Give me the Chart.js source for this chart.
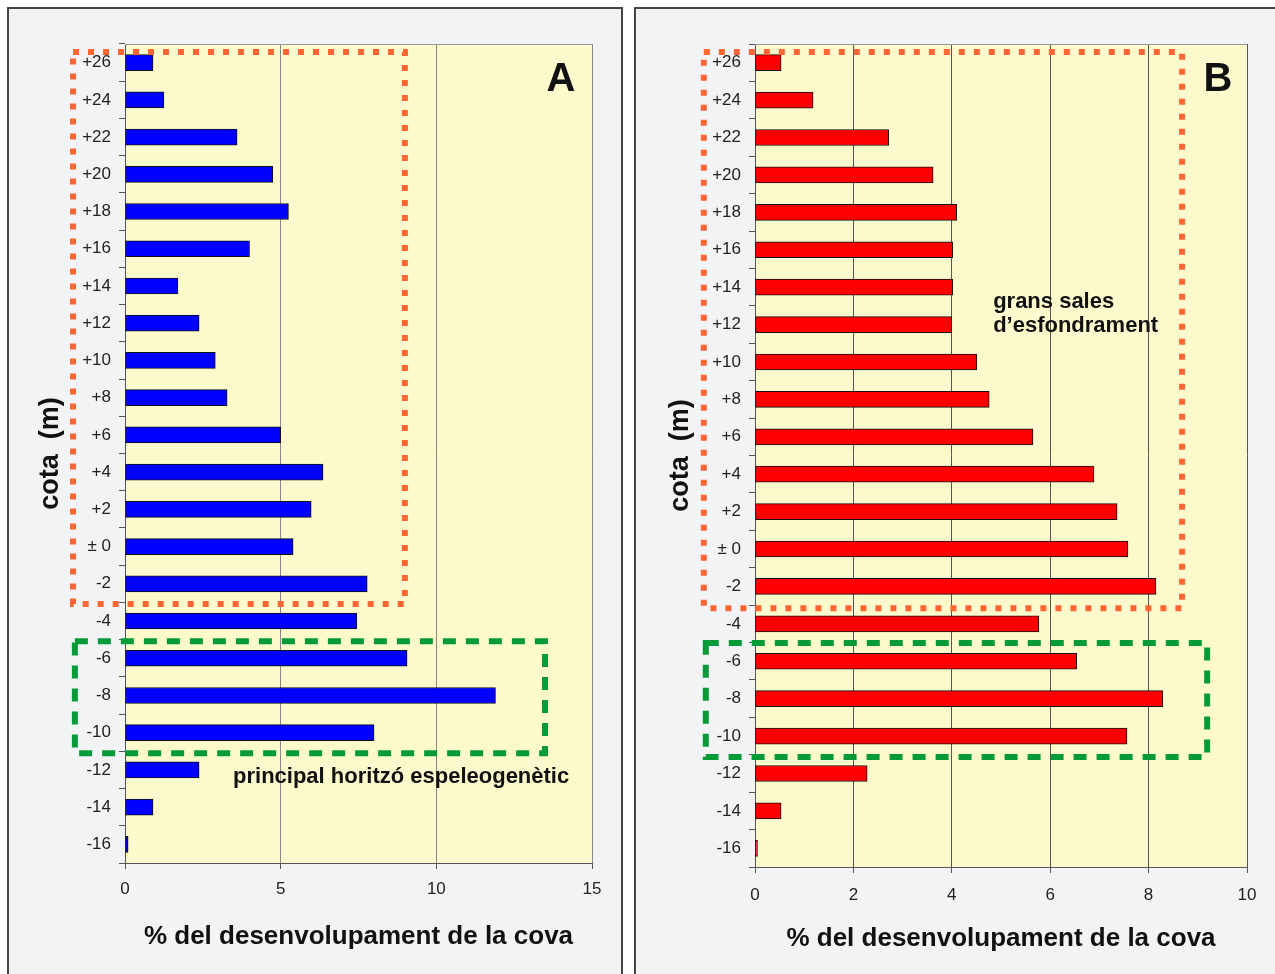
<!DOCTYPE html>
<html>
<head>
<meta charset="utf-8">
<script src="https://cdn.jsdelivr.net/npm/chart.js@4/dist/chart.umd.min.js"></script>
<style>
    body { margin: 0; background: #fff; width: 1275px; height: 974px; overflow: hidden; position: relative; font-family: "Liberation Sans", Arial, sans-serif; }
    .panell { position: absolute; background: #f2f3f5; border: 2px solid #444; border-bottom: none; }
    #panellA { left: 7px; top: 7px; width: 612px; height: 980px; }
    #panellB { left: 634px; top: 7px; width: 700px; height: 980px; border-right: none; }
    .caixa { position: absolute; top: 9px; height: 965px; }
    #caixaA { left: 9px; width: 612px; }
    #caixaB { left: 636px; width: 639px; }
</style>
</head>
<body>
<div class="panell" id="panellA"></div>
<div class="panell" id="panellB"></div>
<div class="caixa" id="caixaA"><canvas id="graficA"></canvas></div>
<div class="caixa" id="caixaB"><canvas id="graficB"></canvas></div>
<script>
// Cotes (m) i % del desenvolupament de la cova
const cotes = ['+26', '+24', '+22', '+20', '+18', '+16', '+14', '+12', '+10', '+8', '+6', '+4', '+2', '± 0',
    '-2', '-4', '-6', '-8', '-10', '-12', '-14', '-16'];
const pctA = [0.9, 1.25, 3.6, 4.75, 5.25, 4.0, 1.7, 2.38, 2.9, 3.28, 5.0, 6.36, 5.98, 5.4,
    7.78, 7.45, 9.06, 11.9, 8.0, 2.38, 0.9, 0.1];
const pctB = [0.53, 1.18, 2.72, 3.62, 4.1, 4.02, 4.02, 4.0, 4.51, 4.76, 5.65, 6.89, 7.36, 7.58,
    8.15, 5.77, 6.54, 8.29, 7.56, 2.28, 0.53, 0.05];

const FONT = '"Liberation Sans", Arial, sans-serif';

// Fons groc de l'àrea, marcs i textos (en coordenades de les escales)
const marcsPlugin = {
    id: 'marcs',
    beforeDraw(chart) {
        const { ctx, chartArea: a } = chart;
        ctx.save();
        ctx.fillStyle = '#fcfacd';
        ctx.fillRect(a.left, a.top, a.right - a.left, a.bottom - a.top);
        ctx.restore();
    },
    afterDraw(chart, args, opts) {
        const { ctx, chartArea: a } = chart;
        const sx = chart.scales.x, sy = chart.scales.y;
        ctx.save();
        ctx.strokeStyle = '#999';
        ctx.lineWidth = 1;
        ctx.beginPath();
        ctx.moveTo(a.left, a.top + 0.5);
        ctx.lineTo(a.right, a.top + 0.5);
        ctx.stroke();
        (opts.caixes || []).forEach(c => {
            const x1 = sx.getPixelForValue(c.x[0]), x2 = sx.getPixelForValue(c.x[1]);
            const y1 = sy.getPixelForValue(c.y[0]), y2 = sy.getPixelForValue(c.y[1]);
            ctx.strokeStyle = c.color;
            ctx.lineWidth = 6;
            ctx.setLineDash(c.dash);
            ctx.strokeRect(x1, y1, x2 - x1, y2 - y1);
        });
        ctx.setLineDash([]);
        (opts.textos || []).forEach(t => {
            ctx.font = 'bold ' + t.size + 'px ' + FONT;
            ctx.fillStyle = '#111';
            ctx.textAlign = t.align || 'left';
            ctx.textBaseline = 'middle';
            t.lines.forEach((l, i) => {
                ctx.fillText(l, sx.getPixelForValue(t.x), sy.getPixelForValue(t.y[i]));
            });
        });
        ctx.restore();
    }
};

function crearGrafic(id, dades, color, cfg) {
    return new Chart(document.getElementById(id), {
        type: 'bar',
        data: {
            labels: cotes,
            datasets: [{
                data: dades,
                backgroundColor: color,
                borderColor: '#111',
                borderWidth: 1,
                borderSkipped: false,
                barThickness: 16
            }]
        },
        options: {
            indexAxis: 'y',
            responsive: true,
            maintainAspectRatio: false,
            animation: false,
            layout: { padding: { left: 0, top: 35, right: cfg.padRight, bottom: 0 } },
            scales: {
                x: {
                    type: 'linear', min: 0, max: cfg.max,
                    afterFit: s => { s.height = cfg.altX; },
                    ticks: { stepSize: cfg.pas, color: '#222', padding: cfg.padTickX, font: { family: FONT, size: 17 } },
                    grid: { color: cfg.gridColor, tickLength: 6, tickColor: '#555' },
                    border: { color: '#555' },
                    title: {
                        display: true, text: '% del desenvolupament de la cova', color: '#111',
                        font: { family: FONT, size: 26, weight: 'bold' }, padding: { top: 0, bottom: cfg.padTitolX }
                    }
                },
                y: {
                    afterFit: s => { s.width = cfg.ampleY; },
                    ticks: { color: '#222', padding: 8, font: { family: FONT, size: 17 } },
                    grid: { drawOnChartArea: false, tickLength: 6, color: '#555' },
                    border: { color: '#555' },
                    title: {
                        display: true, text: 'cota  (m)', color: '#111',
                        font: { family: FONT, size: 27, weight: 'bold' }, padding: { top: cfg.padTitolY, bottom: 0 }
                    }
                }
            },
            plugins: {
                legend: { display: false },
                tooltip: { enabled: false },
                marcs: { caixes: cfg.caixes, textos: cfg.textos }
            }
        },
        plugins: [marcsPlugin]
    });
}

crearGrafic('graficA', pctA, '#0000ff', {
    max: 15, pas: 5, padRight: 29, altX: 111, ampleY: 116, padTickX: 10, padTitolX: 22, padTitolY: 25,
    gridColor: '#888',
    caixes: [
        { x: [-1.67, 8.99], y: [-0.285, 14.54], color: '#ff6633', dash: [6, 9] },
        { x: [-1.61, 13.49], y: [15.54, 18.55], color: '#079a38', dash: [13, 10] }
    ],
    textos: [
        { x: 14.0, y: [0.47], lines: ['A'], size: 40, align: 'center' },
        { x: 3.47, y: [19.19], lines: ['principal horitzó espeleogenètic'], size: 22 }
    ]
});

crearGrafic('graficB', pctB, '#ff0000', {
    max: 10, pas: 2, padRight: 28, altX: 107, ampleY: 119, padTickX: 12, padTitolX: 20, padTitolY: 28,
    gridColor: '#555',
    caixes: [
        { x: [-1.04, 8.68], y: [-0.286, 14.58], color: '#ff6633', dash: [6, 9] },
        { x: [-1.0, 9.19], y: [15.51, 18.56], color: '#079a38', dash: [13, 10] }
    ],
    textos: [
        { x: 9.41, y: [0.46], lines: ['B'], size: 40, align: 'center' },
        { x: 4.84, y: [6.40, 7.04], lines: ['grans sales', 'd’esfondrament'], size: 22 }
    ]
});
</script>
</body>
</html>
